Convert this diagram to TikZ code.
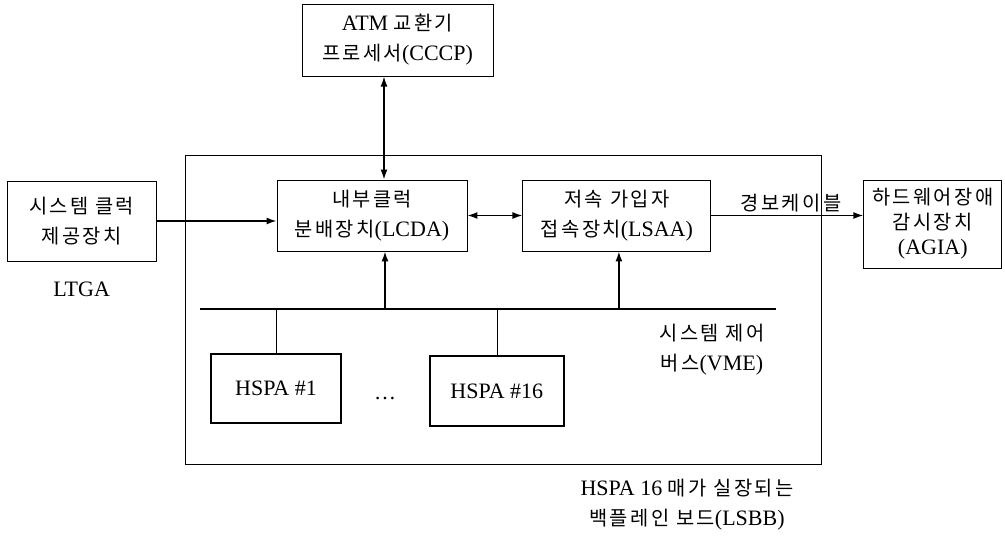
\documentclass[tikz,border=0pt]{standalone}
\usepackage{fontspec}
\setmainfont{Liberation Serif}
\newfontfamily\krfont[Scale=0.9, LetterSpace=12]{Noto Sans CJK KR}
\newcommand{\kr}[1]{{\krfont #1}}
\usetikzlibrary{positioning,arrows.meta}

\begin{document}
\begin{tikzpicture}[x=1pt,y=-1pt,
  font=\fontsize{22}{30}\selectfont,
  box/.style={draw, line width=0.9pt, align=center, inner sep=2pt},
  card/.style={draw, line width=1.8pt, inner sep=2pt},
  lbl/.style={align=center, inner sep=0pt},
  link/.style={line width=1.5pt, -{Latex[length=10pt,width=7pt]}},
  dlink/.style={line width=1.5pt, {Latex[length=10pt,width=7pt]}-{Latex[length=10pt,width=7pt]}},
  bus/.style={line width=2.4pt},
  tap/.style={line width=0.6pt}]
        \useasboundingbox (0,0) rectangle (1005,538);

        % board and its units
        \node[box, minimum width=636pt, minimum height=309pt] (LSBB) at (503,309.5) {};
        \node[box, minimum width=190pt, minimum height=71pt] (LCDA) at (372,215.5) {\kr{내부클럭}\\\kr{분배장치}(LCDA)};
        \node[box, minimum width=188pt, minimum height=71pt, right=55pt of LCDA] (LSAA) {\kr{저속 가입자}\\\kr{접속장치}(LSAA)};
        \node[box, minimum width=191pt, minimum height=72pt, above=103pt of LCDA, xshift=25.5pt] (CCCP) {ATM \kr{교환기}\\\kr{프로세서}(CCCP)};
        \node[box, minimum width=149pt, minimum height=80pt, left=120pt of LCDA, yshift=-5.5pt] (LTG) {\kr{시스템 클럭}\\\kr{제공장치}};
        \node[lbl, below=20pt of LTG] (LTGA) {LTGA};
        \node[box, minimum width=138pt, minimum height=88pt, right=152pt of LSAA, yshift=-8.5pt, font=\fontsize{22}{25}\selectfont, inner sep=0pt] (AGIA) {\kr{하드웨어장애}\\\kr{감시장치}\\(AGIA)};

        % bus and cards
        \coordinate (busL) at (200,309);
        \coordinate (busR) at (776,309);
        \node[card, minimum width=130pt, minimum height=69pt] (HSPA1) at (276,388.5) {HSPA \#1};
        \node[card, minimum width=134pt, minimum height=70pt, right=87pt of HSPA1, yshift=-2.5pt] (HSPA16) {HSPA \#16};
        \node[lbl] (dots) at (385,399) {\ldots};
        \node[lbl] (VME) at (712,350) {\kr{시스템 제어}\\\kr{버스}(VME)};
        \node[lbl] (LSBBlbl) at (687,505) {HSPA 16 \kr{매가 실장되는}\\\kr{백플레인 보드}(LSBB)};
        \node[lbl] (alarm) at (791,203) {\kr{경보케이블}};

        % edges
        \draw[bus] (busL) -- (busR);
        \draw[dlink] ([xshift=12pt]LCDA.north) -- ([xshift=12pt]LCDA.north |- CCCP.south);
        \draw[link] (LTG.east) -- (LTG.east -| LCDA.west);
        \draw[dlink] (LCDA) -- (LSAA);
        \draw[link] (LSAA.east) -- (LSAA.east -| AGIA.west);
        \draw[link] ([xshift=13pt]LCDA.south |- busL) -- ([xshift=13pt]LCDA.south);
        \draw[link] ([xshift=2pt]LSAA.south |- busL) -- ([xshift=2pt]LSAA.south);
        \draw[tap] (HSPA1.north) -- (HSPA1.north |- busL);
        \draw[tap] (HSPA16.north) -- (HSPA16.north |- busL);
\end{tikzpicture}
\end{document}
